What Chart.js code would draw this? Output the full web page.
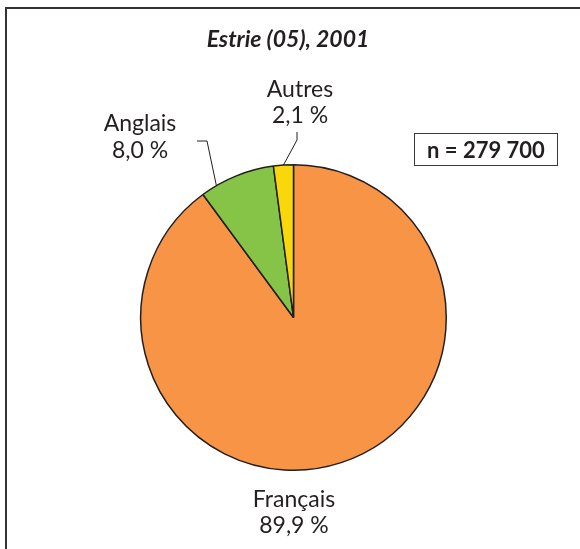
<!DOCTYPE html>
<html>
<head>
<meta charset="utf-8">
<script src="https://cdn.jsdelivr.net/npm/chart.js@4"></script>
<style>
  html, body { margin: 0; padding: 0; background: #ffffff; }
  #wrap { width: 580px; height: 549px; position: relative; }
</style>
</head>
<body>
<div id="wrap"><canvas id="c" width="580" height="549"></canvas></div>
<script>
// Langue maternelle, Estrie (05), 2001
const titleText = 'Estrie (05), 2001';
const sampleText = 'n = 279 700';
const categories = ['Français', 'Anglais', 'Autres'];
const percents = [89.9, 8.0, 2.1];
const valueLabels = ['89,9 %', '8,0 %', '2,1 %'];
const sliceColors = ['#F79446', '#86C447', '#F9D70B'];

const INK = '#231F20';
const FONT = 'Lato, "DejaVu Sans", sans-serif';

// Where each category label sits, and how its leader line bends.
// anchorFrac: position along the slice arc where the leader touches it.
const labelLayout = [
  { x: 294, y1: 506.5, y2: 533, leader: null },
  { x: 140, y1: 131, y2: 157.5, leader: { anchorFrac: 0.21, elbow: [207, 141], end: [197, 141] } },
  { x: 300, y1: 96.5, y2: 123, leader: { anchorFrac: 0.5, elbow: [297, 140], end: [297, 132] } }
];

const decorations = {
  id: 'decorations',
  beforeDraw(chart) {
    const ctx = chart.ctx;
    ctx.save();
    ctx.fillStyle = '#ffffff';
    ctx.fillRect(0, 0, chart.width, chart.height);
    // frame: left and top rules
    ctx.strokeStyle = '#333333';
    ctx.lineWidth = 2;
    ctx.beginPath();
    ctx.moveTo(6, chart.height);
    ctx.lineTo(6, 8);
    ctx.lineTo(chart.width, 8);
    ctx.stroke();
    ctx.restore();
  },
  afterDraw(chart) {
    const ctx = chart.ctx;
    ctx.save();
    ctx.fillStyle = INK;
    // title
    ctx.font = 'italic bold 23px ' + FONT;
    ctx.textAlign = 'center';
    ctx.textBaseline = 'alphabetic';
    ctx.fillText(titleText, 288, 47);

    // sample size box
    ctx.strokeStyle = '#3a3a3a';
    ctx.lineWidth = 1;
    ctx.strokeRect(414.5, 133.5, 143, 32);
    ctx.font = 'bold 22px ' + FONT;
    ctx.fillText(sampleText, 486, 158);

    // category labels and leaders
    const arcs = chart.getDatasetMeta(0).data;
    ctx.font = '23px ' + FONT;
    categories.forEach((cat, i) => {
      const lay = labelLayout[i];
      ctx.fillText(cat, lay.x, lay.y1);
      ctx.fillText(valueLabels[i], lay.x, lay.y2);
      if (lay.leader) {
        const a = arcs[i];
        const ang = a.startAngle + (a.endAngle - a.startAngle) * lay.leader.anchorFrac;
        const px = a.x + Math.cos(ang) * a.outerRadius;
        const py = a.y + Math.sin(ang) * a.outerRadius;
        ctx.strokeStyle = INK;
        ctx.lineWidth = 1;
        ctx.beginPath();
        ctx.moveTo(px, py);
        ctx.lineTo(lay.leader.elbow[0], lay.leader.elbow[1]);
        ctx.lineTo(lay.leader.end[0], lay.leader.end[1]);
        ctx.stroke();
      }
    });
    ctx.restore();
  }
};

new Chart(document.getElementById('c'), {
  type: 'pie',
  data: {
    labels: categories,
    datasets: [{
      data: percents,
      backgroundColor: sliceColors,
      borderColor: INK,
      borderWidth: 1.5
    }]
  },
  options: {
    responsive: false,
    animation: false,
    devicePixelRatio: 1,
    layout: { padding: { left: 140, right: 133, top: 164, bottom: 78 } },
    plugins: {
      legend: { display: false },
      tooltip: { enabled: false },
      title: { display: false }
    }
  },
  plugins: [decorations]
});
</script>
</body>
</html>
